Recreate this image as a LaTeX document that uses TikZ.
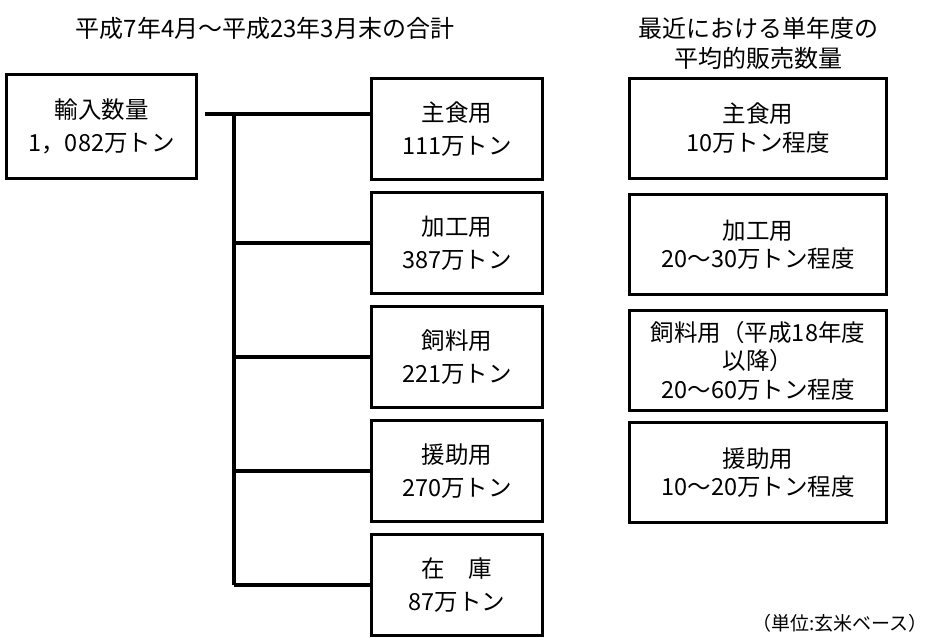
\documentclass[tikz,border=0pt]{standalone}
\usepackage{fontspec}
\setmainfont{Noto Sans CJK JP}
\begin{document}
\begin{tikzpicture}[
    x=1pt, y=-1pt,
    box/.style={draw, line width=3pt, align=center, inner sep=0pt, font=\fontsize{23.5}{33}\selectfont},
    total/.style={box, minimum width=171pt, minimum height=101pt},
    recent/.style={box, minimum width=257pt, minimum height=100pt, font=\fontsize{23.5}{28.5}\selectfont},
    title/.style={align=center, font=\fontsize{24}{30}\selectfont},
    link/.style={line width=3.5pt}
]
    \useasboundingbox (0,0) rectangle (933,637);

    \node[title] (ltitle) at (265,28) {平成7年4月～平成23年3月末の合計};
    \node[title] (rtitle) at (758,43) {最近における単年度の\\平均的販売数量};

    \node[box, minimum width=190pt, minimum height=104pt] (import) at (101.5,126) {輸入数量\\1，082万トン};

    \node[total] (shu) at (457,129) {主食用\\111万トン};
    \node[total] (kako) at (457,243) {加工用\\387万トン};
    \node[total] (shiryo) at (457,357) {飼料用\\221万トン};
    \node[total] (enjo) at (457,471) {援助用\\270万トン};
    \node[total] (zaiko) at (457,585) {在\hspace{1em}庫\\87万トン};

    \node[recent] (rshu) at (758,128) {主食用\\10万トン程度};
    \node[recent] (rkako) at (758,244.5) {加工用\\20～30万トン程度};
    \node[recent] (rshiryo) at (758,360.5) {飼料用（平成18年度\\以降）\\20～60万トン程度};
    \node[recent] (renjo) at (758,472.5) {援助用\\10～20万トン程度};

    \node[font=\fontsize{19}{21}\selectfont, inner sep=0pt, anchor=east] (unit) at (928,623) {（単位:玄米ベース）};

    % tree of uses
    \coordinate (src) at (205,114);
    \coordinate (trunk) at (234,114);
    \draw[link] (src) -- (src -| shu.west);
    \draw[link] (trunk) -- (trunk |- zaiko.west);
    \foreach \n in {kako, shiryo, enjo, zaiko}
        \draw[link] (trunk |- \n.west) -- (\n.west);
\end{tikzpicture}
\end{document}
